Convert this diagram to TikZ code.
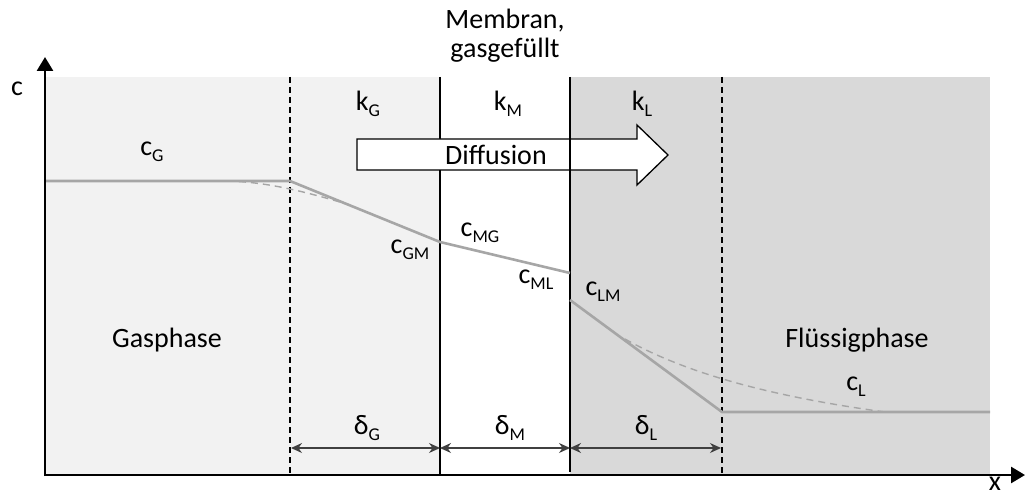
\documentclass[tikz,border=0pt]{standalone}
\usepackage{fontspec}
\setmainfont{Carlito}
\usetikzlibrary{arrows.meta}
\definecolor{gasbg}{HTML}{F2F2F2}
\definecolor{liqbg}{HTML}{D9D9D9}
\definecolor{profile}{HTML}{A6A6A6}
\definecolor{dimline}{HTML}{404040}
\newcommand{\sbs}[1]{\raisebox{-0.22em}{\fontsize{18}{18}\selectfont #1}}
\tikzset{
  lbl/.style={inner sep=0pt, font=\fontsize{28}{33}\selectfont},
  axisline/.style={line width=2.6pt, -{Triangle[width=16pt,length=14pt]}},
  wall/.style={line width=1.4pt, black},
  film/.style={line width=1.3pt, black, dash pattern=on 6pt off 4pt},
  prof/.style={line width=2.6pt, profile},
  profdash/.style={line width=1.4pt, profile, dash pattern=on 7pt off 5pt},
  dim/.style={line width=1.2pt, dimline, {Stealth[width=10pt,length=11pt]}-{Stealth[width=10pt,length=11pt]}},
}
\begin{document}
\begin{tikzpicture}[x=1pt,y=-1pt]
\useasboundingbox (0,0) rectangle (1025,497);
% backgrounds
\fill[gasbg] (45,77) rectangle (440,475);
\fill[white] (440,77) rectangle (570,475);
\fill[liqbg] (570,77) rectangle (990,475);
% coordinates
\coordinate (yb) at (45,476);
\coordinate (yt) at (45,57);
\coordinate (xl) at (44,475);
\coordinate (xr) at (1025,475);
\coordinate (fgt) at (290,77);  \coordinate (fgb) at (290,475);
\coordinate (flt) at (722,77);  \coordinate (flb) at (722,475);
\coordinate (wgt) at (440,77);  \coordinate (wgb) at (440,475);
\coordinate (wlt) at (570,77);  \coordinate (wlb) at (570,472);
% film lines and walls
\draw[film] (fgt) -- (fgb);
\draw[film] (flt) -- (flb);
\draw[wall] (wgt) -- (wgb);
% diffusion arrow
\filldraw[fill=white, draw=black, line width=1.3pt]
  (357,139) -- (637,139) -- (637,125) -- (668,155) -- (637,185) -- (637,170) -- (357,170) -- cycle;
\node[lbl] (diff) at (496,155) {Diffusion};
\draw[wall] (wlt) -- (wlb);
% concentration profile
\coordinate (p0) at (45,181);
\coordinate (p1) at (290,181);
\coordinate (p2) at (440,242);
\coordinate (p3) at (570,273);
\coordinate (p4) at (570,300);
\coordinate (p5) at (722,412);
\coordinate (p6) at (990,412);
\draw[prof] (p0) -- (p1) -- (p2) -- (p3);
\draw[prof] (p4) -- (p5) -- (p6);
\coordinate (dg0) at (227,181);
\coordinate (dg1) at (350,205);
\coordinate (dl0) at (625,339);
\coordinate (dl1) at (885,412);
\draw[profdash] (dg0) .. controls (265,182) and (300,190) .. (dg1);
\draw[profdash] (dl0) .. controls (680,370) and (760,395) .. (dl1);
% axes
\draw[axisline] (yb) -- (yt);
\draw[axisline] (xl) -- (xr);
\node[lbl] (cax) at (17,89) {c};
\node[lbl] (xax) at (995,484) {x};
% labels
\node[lbl] (memb) at (505,36) {\begin{tabular}{@{}c@{}}Membran,\\[-4pt]gasgefüllt\end{tabular}};
\node[lbl] (kg) at (368,104) {k\sbs{G}};
\node[lbl] (km) at (508,104) {k\sbs{M}};
\node[lbl] (kl) at (642,104) {k\sbs{L}};
\node[lbl] (cg) at (152,152) {c\sbs{G}};
\node[lbl] (cgm) at (410,250) {c\sbs{GM}};
\node[lbl] (cmg) at (480,233) {c\sbs{MG}};
\node[lbl] (cml) at (536,280) {c\sbs{ML}};
\node[lbl] (clm) at (603,292) {c\sbs{LM}};
\node[lbl] (cl) at (856,387) {c\sbs{L}};
\node[lbl] (gas) at (167,340) {Gasphase};
\node[lbl] (liq) at (857,340) {Flüssigphase};
% thickness dimensions
\coordinate (dg) at (291,448); \coordinate (dm) at (440,448);
\coordinate (dmr) at (570,448); \coordinate (dlr) at (721,448);
\draw[dim] (dg) -- (dm);
\draw[dim] (dm) -- (dmr);
\draw[dim] (dmr) -- (dlr);
\node[lbl] (delg) at (367,428) {δ\sbs{G}};
\node[lbl] (delm) at (510,428) {δ\sbs{M}};
\node[lbl] (dell) at (646,428) {δ\sbs{L}};
\end{tikzpicture}
\end{document}
